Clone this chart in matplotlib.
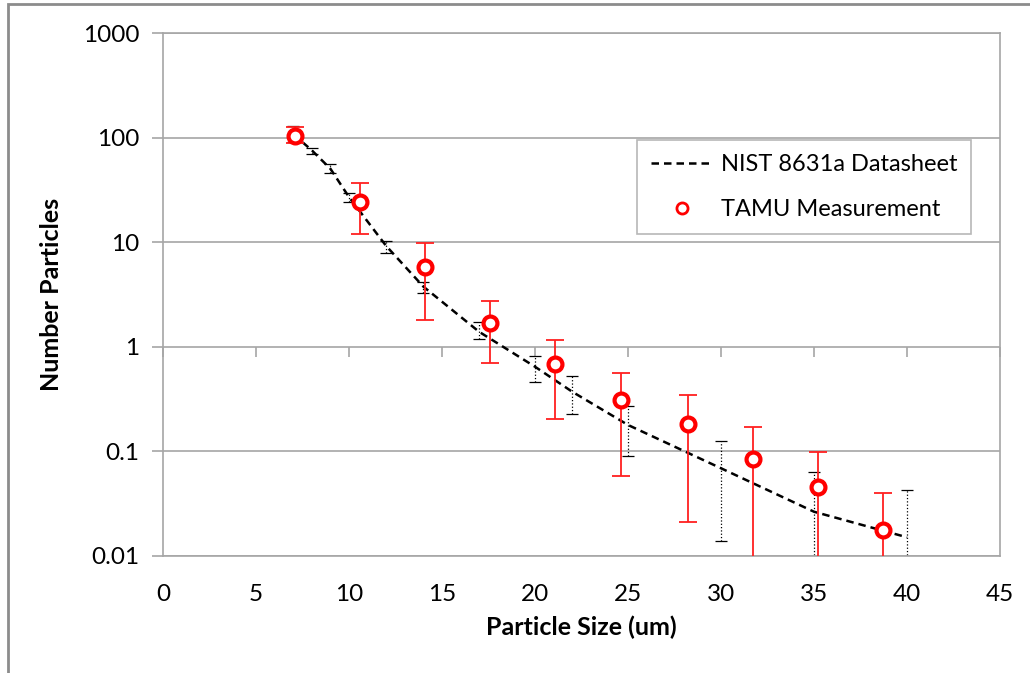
import matplotlib.pyplot as plt
from matplotlib.lines import Line2D
from matplotlib.patches import Rectangle
import numpy as np

plt.rcParams['font.family'] = ['Lato', 'DejaVu Sans']

# NIST 8631a datasheet
nist_size = [7, 8, 9, 10, 12, 14, 17, 20, 22, 25, 30, 35, 40]
nist_count = [108, 75.6, 50.4, 27, 9.2, 3.76, 1.39, 0.645, 0.372, 0.179, 0.069, 0.0265, 0.0151]
nist_hi = [129, 80, 56, 29.6, 10.3, 4.2, 1.73, 0.82, 0.53, 0.27, 0.127, 0.0636, 0.0425]
nist_lo = [90, 70, 46, 24.3, 7.8, 3.3, 1.2, 0.46, 0.23, 0.090, 0.0140, 0.001, 0.001]

# TAMU measurement
tamu_size = [7.1, 10.6, 14.1, 17.6, 21.1, 24.6, 28.2, 31.7, 35.2, 38.7]
tamu_count = [103, 24.2, 5.8, 1.69, 0.686, 0.31, 0.183, 0.0845, 0.0457, 0.0177]
tamu_hi = [125, 36.8, 9.8, 2.76, 1.16, 0.565, 0.346, 0.172, 0.0993, 0.0403]
tamu_lo = [88, 12.0, 1.8, 0.70, 0.204, 0.0586, 0.0211, 0.001, 0.001, 0.001]

x_ticks = [0, 5, 10, 15, 20, 25, 30, 35, 40, 45]
y_ticks = [0.01, 0.1, 1, 10, 100, 1000]
y_labels = ['0.01', '0.1', '1', '10', '100', '1000']

fig = plt.figure(figsize=(10.3, 6.73), dpi=100)
ax = fig.add_axes([163 / 1030, 1 - 556 / 673, 837 / 1030, 523 / 673])

grid_c = '#a6a6a6'
ax.set_yscale('log')
ax.set_xlim(0, 45)
ax.set_ylim(0.01, 1000)
for y in y_ticks:
    ax.axhline(y, color=grid_c, lw=1.2, zorder=0)

nist_c = np.array(nist_count)
eb = ax.errorbar(nist_size, nist_count,
                 yerr=[nist_c - np.array(nist_lo), np.array(nist_hi) - nist_c],
                 fmt='none', ecolor='black', elinewidth=0.9, capsize=4, capthick=0.9, zorder=2)
eb[2][0].set_linestyle(':')
ax.plot(nist_size, nist_count, color='black', ls=(0, (3, 2)), lw=1.8, zorder=3)

tamu_c = np.array(tamu_count)
eb2 = ax.errorbar(tamu_size, tamu_count,
                  yerr=[tamu_c - np.array(tamu_lo), np.array(tamu_hi) - tamu_c],
                  fmt='o', color='red', mfc='white', mec='red', mew=3, ms=10,
                  ecolor='#ff2020', elinewidth=1.3, capsize=6.5, zorder=4)
for cap in eb2[1]:
    cap.set_markeredgewidth(1.3)

# x axis crosses at y = 1 (tick marks only)
ax.plot(x_ticks, [1] * len(x_ticks), ls='none', marker=3, ms=7, mew=1.2,
        color=grid_c, clip_on=False, zorder=1)

ax.set_xticks(x_ticks)
ax.set_yticks(y_ticks)
ax.set_yticklabels(y_labels)
ax.minorticks_off()
ax.tick_params(axis='x', length=0, pad=20, labelsize=17.5)
ax.tick_params(axis='y', length=8, width=1.2, color=grid_c, labelsize=17.5, pad=9)
for s in ax.spines.values():
    s.set_color(grid_c)
    s.set_linewidth(1.2)

ax.set_xlabel('Particle Size (um)', fontsize=18, fontweight='bold', labelpad=8)
ax.set_ylabel('Number Particles', fontsize=18, fontweight='bold', labelpad=14)

handles = [Line2D([], [], color='black', ls=(0, (3, 2)), lw=1.8),
           Line2D([], [], ls='none', marker='o', mfc='white', mec='red', mew=2, ms=8)]
leg = ax.legend(handles, ['NIST 8631a Datasheet', 'TAMU Measurement'],
                loc='upper left', bbox_to_anchor=(474 / 837, 1 - 107 / 523), borderaxespad=0,
                fontsize=17, frameon=True, fancybox=False, edgecolor=grid_c,
                handlelength=2.6, labelspacing=1.0, borderpad=0.6, handletextpad=0.35)
leg.get_frame().set_linewidth(1.2)

# outer chart border
fig.patches.append(Rectangle((8 / 1030, -0.05), 1.2, 1 - 4 / 673 + 0.05, transform=fig.transFigure,
                             fill=False, edgecolor='#8c8c8c', lw=2))

fig.savefig('out.png', dpi=100)
